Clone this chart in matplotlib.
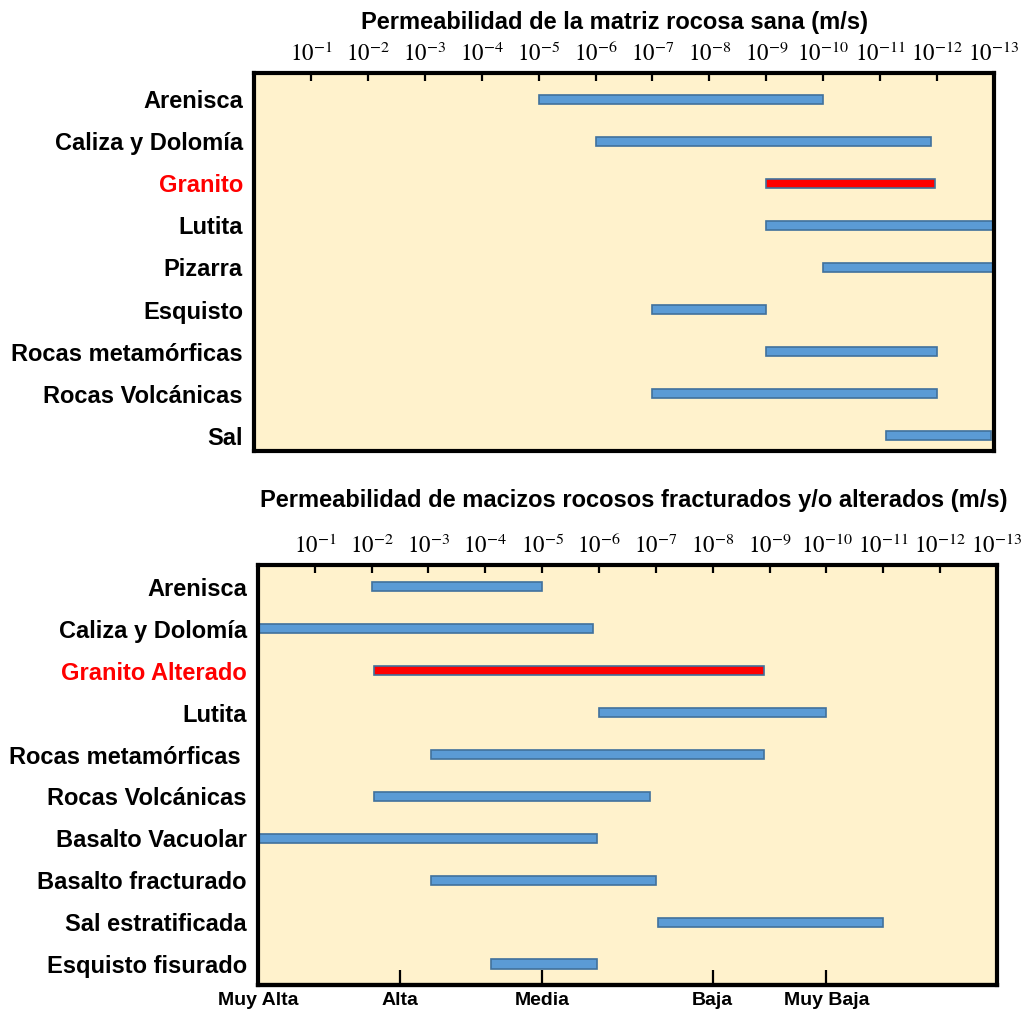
import matplotlib
matplotlib.use("Agg")
import matplotlib.pyplot as plt
from matplotlib.ticker import NullLocator

plt.rcParams["font.family"] = ["Liberation Sans", "DejaVu Sans"]
plt.rcParams["mathtext.fontset"] = "stix"

# Permeability ranges (m/s) - intact rock matrix
top_rocks = ["Arenisca", "Caliza y Dolomía", "Granito", "Lutita", "Pizarra",
             "Esquisto", "Rocas metamórficas", "Rocas Volcánicas", "Sal"]
top_high = [1e-5, 1e-6, 1e-9, 1e-9, 1e-10, 1e-7, 1e-9, 1e-7, 8e-12]
top_low = [1e-10, 1.26e-12, 1.1e-12, 1e-13, 1e-13, 1e-9, 1e-12, 1e-12, 1.15e-13]

# Permeability ranges (m/s) - fractured / altered rock masses
bot_rocks = ["Arenisca", "Caliza y Dolomía", "Granito Alterado", "Lutita",
             "Rocas metamórficas ", "Rocas Volcánicas", "Basalto Vacuolar",
             "Basalto fracturado", "Sal estratificada", "Esquisto fisurado"]
bot_high = [1e-2, 1.0, 9e-3, 1e-6, 9e-4, 9e-3, 1.0, 9e-4, 9e-8, 8e-5]
bot_low = [1e-5, 1.26e-6, 1.26e-9, 1e-10, 1.26e-9, 1.26e-7, 1.1e-6, 1e-7, 1e-11, 1.1e-6]

decade_exp = list(range(1, 14))
class_ticks = [1.0, 10 ** -2.5, 1e-5, 1e-8, 1e-10]
class_labels = ["Muy Alta", "Alta", "Media", "Baja", "Muy Baja"]

highlight = {"Granito", "Granito Alterado"}
bg = "#FFF2CC"
blue = "#5B9BD5"
edge = "#41719C"


def draw_panel(ax, rocks, high, low, ylim):
    ys = list(range(len(rocks)))
    colors = ["#FF0000" if r in highlight else blue for r in rocks]
    ax.set_facecolor(bg)
    ax.barh(ys, [h - l for h, l in zip(high, low)], left=low, height=0.22,
            color=colors, edgecolor=edge, linewidth=1.2)
    ax.set_xscale("log")
    ax.set_xlim(1.0, 1e-13)
    ax.set_ylim(*ylim)
    ax.xaxis.set_ticks_position("top")
    ax.set_xticks([10.0 ** -k for k in decade_exp])
    ax.set_xticklabels([r"$10^{-%d}$" % k for k in decade_exp])
    ax.xaxis.set_minor_locator(NullLocator())
    ax.tick_params(axis="x", direction="in", length=6, width=1.6, pad=5,
                   labelsize=16.5)
    ax.set_yticks(ys)
    ax.set_yticklabels(rocks, fontsize=17, fontweight="bold")
    ax.tick_params(axis="y", length=0, pad=8)
    for lab, r in zip(ax.get_yticklabels(), rocks):
        if r in highlight:
            lab.set_color("#FF0000")
    for s in ax.spines.values():
        s.set_linewidth(3)


fig = plt.figure(figsize=(10.31, 10.13), dpi=100)
ax1 = fig.add_axes((0.2464, 0.5548, 0.7177, 0.3731))
ax2 = fig.add_axes((0.2502, 0.0276, 0.7168, 0.4146))

draw_panel(ax1, top_rocks, top_high, top_low, (8.36, -0.62))
draw_panel(ax2, bot_rocks, bot_high, bot_low, (9.5, -0.52))

fig.text(0.5965, 0.978, "Permeabilidad de la matriz rocosa sana (m/s)",
         ha="center", va="center", fontsize=17, fontweight="bold")
fig.text(0.615, 0.5064,
         "Permeabilidad de macizos rocosos fracturados y/o alterados (m/s)",
         ha="center", va="center", fontsize=17, fontweight="bold")

# qualitative scale under the lower panel
sec = ax2.secondary_xaxis("bottom")
sec.set_xticks(class_ticks)
sec.set_xticklabels(class_labels, fontsize=14, fontweight="bold")
sec.xaxis.set_minor_locator(NullLocator())
sec.tick_params(axis="x", direction="in", length=11, width=1.6, pad=5)
sec.spines["bottom"].set_linewidth(3)

fig.savefig("out.png", dpi=100)
